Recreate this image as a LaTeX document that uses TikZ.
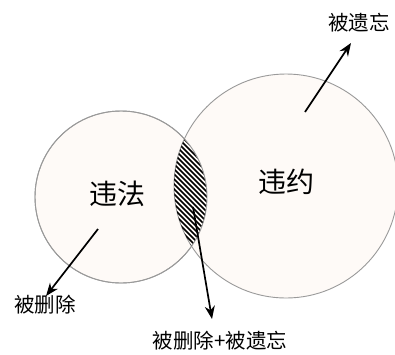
\documentclass[tikz,border=0pt]{standalone}
\usepackage{fontspec}
\newfontfamily\cjk{Noto Sans CJK SC}
\usetikzlibrary{arrows.meta}
\definecolor{setfill}{HTML}{FEFAF7}
\definecolor{setline}{HTML}{9A9A9A}
\tikzset{
  setcirc/.style={circle, draw=setline, line width=0.9pt, fill=setfill, inner sep=0pt},
  bigtxt/.style={font=\cjk\fontsize{28}{28}\selectfont, inner sep=0pt},
  smalltxt/.style={font=\cjk\fontsize{20.5}{20.5}\selectfont, inner sep=0pt},
  arr/.style={line width=1.7pt, -{Stealth[length=13pt,width=10pt]}},
  hatch/.style={line width=1.6pt, black}
}
\begin{document}
\begin{tikzpicture}[x=1pt,y=-1pt]
\useasboundingbox (0,0) rectangle (395,354);
\fill[white] (0,0) rectangle (395,354);
\node[setcirc, minimum size=172pt] (L) at (121,197) {};
\node[setcirc, minimum size=224pt] (R) at (286,186) {};
\begin{scope}
  \clip (121,197) circle[radius=86pt];
  \clip (286,186) circle[radius=112pt];
  \foreach \c in {-200,-195,...,200} {
    \draw[hatch] (120,{120+\c}) -- (260,{260+\c});
  }
\end{scope}
\draw[setline, line width=0.9pt] (121,197) circle[radius=86pt];
\node[bigtxt] (wf) at (117,194) {违法};
\node[bigtxt] (wy) at (286,182) {违约};
\node[smalltxt] (sc) at (45,305) {被删除};
\node[smalltxt] (yw) at (359,23) {被遗忘};
\node[smalltxt] (both) at (220,341) {被删除+被遗忘};
\coordinate (s1) at (98,229);
\coordinate (e1) at (46,296);
\coordinate (s2) at (305,112);
\coordinate (e2) at (351,43);
\coordinate (s3) at (193,207);
\coordinate (e3) at (212,319);
\draw[arr] (s1) -- (e1);
\draw[arr] (s2) -- (e2);
\draw[arr] (s3) -- (e3);
\end{tikzpicture}
\end{document}
